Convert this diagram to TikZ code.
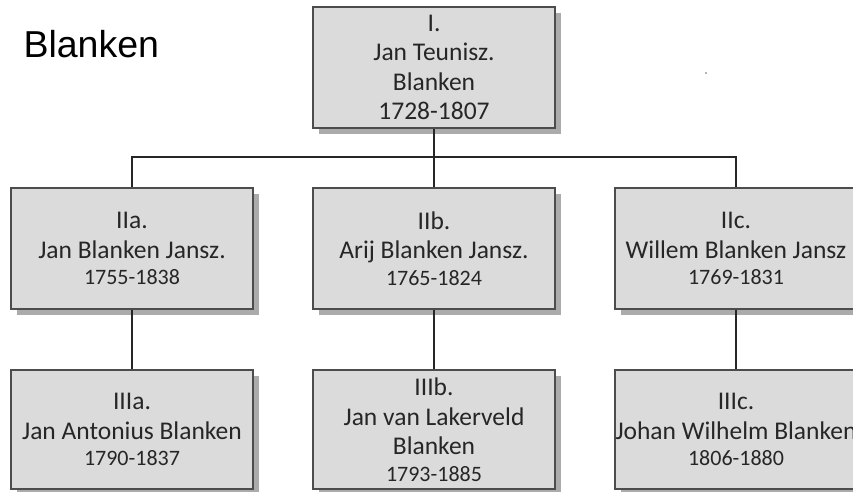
\documentclass[tikz,border=0pt]{standalone}
\usepackage{fontspec}
\setmainfont{Carlito}
\newfontfamily\titlefont{Liberation Sans}
\usetikzlibrary{shadows}
\usepackage{xcolor}
\newcommand\yrs[1]{{\fontsize{22}{26}\selectfont #1}}

\begin{document}
\begin{tikzpicture}[x=1pt,y=-1pt,
	person/.style={rectangle,draw=black!70,line width=1.3pt,fill=black!14,
		minimum width=242pt,minimum height=121pt,inner sep=0pt,align=center,
		text=black!85,font=\fontsize{25.5}{29.5}\selectfont,
		drop shadow={shadow xshift=6pt,shadow yshift=-6pt,fill=black!33,opacity=1}},
	link/.style={draw=black!85,line width=1.3pt}]
				\useasboundingbox (0,0) rectangle (853,491);
				
				\node(title) at (20,57)[anchor=base west,font=\titlefont\fontsize{37.5}{40}\selectfont]{Blanken};
				\fill[black!60] (706,73) circle (0.8);
				
				\node(I) at (434,67.5)[person]{I.\\Jan Teunisz.\\Blanken\\1728-1807};
				\node(IIa) at (132,248.5)[person]{IIa.\\Jan Blanken Jansz.\\[-3pt]\yrs{1755-1838}};
				\node(IIb) at (434,248.5)[person]{IIb.\\Arij Blanken Jansz.\\[-3pt]\yrs{1765-1824}};
				\node(IIc) at (736,248.5)[person]{IIc.\\Willem Blanken Jansz\\[-3pt]\yrs{1769-1831}};
				\node(IIIa) at (132,429.5)[person,minimum height=119pt]{IIIa.\\Jan Antonius Blanken\\[-3pt]\yrs{1790-1837}};
				\node(IIIb) at (434,429.5)[person,minimum height=119pt]{IIIb.\\Jan van Lakerveld\\Blanken\\[-3pt]\yrs{1793-1885}};
				\node(IIIc) at (736,429.5)[person,minimum height=119pt]{IIIc.\\Johan Wilhelm Blanken\\[-3pt]\yrs{1806-1880}};
				
				\coordinate(bar) at (434,157);
				\draw[link] (I.south) to (bar);
				\draw[link] (IIa.north) |- (bar) -| (IIc.north);
				\draw[link] (bar) to (IIb.north);
				\draw[link] (IIa.south) to (IIIa.north);
				\draw[link] (IIb.south) to (IIIb.north);
				\draw[link] (IIc.south) to (IIIc.north);
			\end{tikzpicture}
\end{document}
